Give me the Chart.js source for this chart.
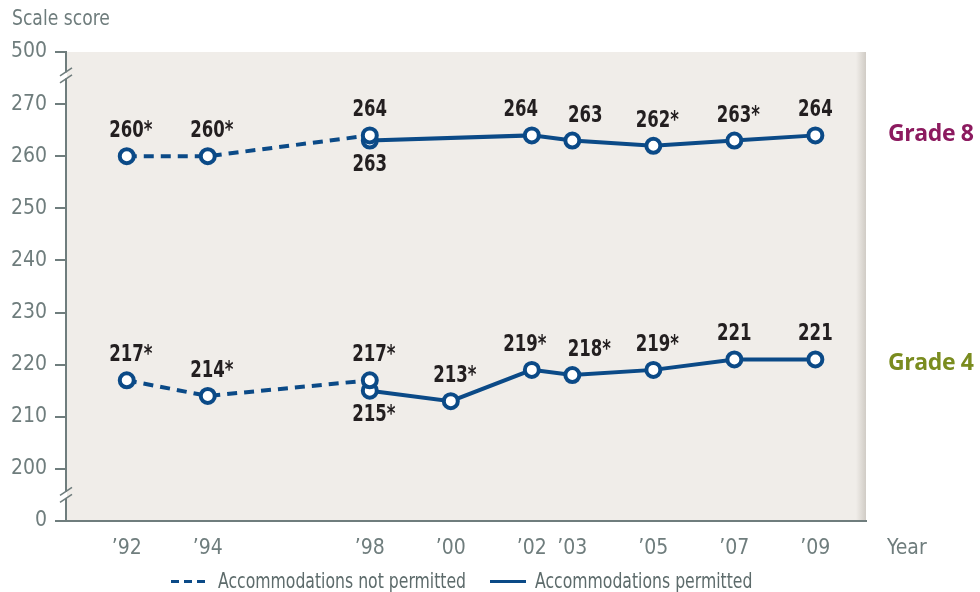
<!DOCTYPE html>
<html>
<head>
<meta charset="utf-8">
<script src="https://cdn.jsdelivr.net/npm/chart.js@4.4.0/dist/chart.umd.min.js"></script>
<style>
    html, body { margin: 0; padding: 0; background: #ffffff; }
    #wrap { position: relative; width: 980px; height: 592px; overflow: hidden; }
    #chart { position: absolute; left: 0; top: 0; }
    .note {
        position: absolute;
        font-family: "Liberation Sans Narrow", "DejaVu Sans Condensed", "Roboto", sans-serif;
        font-size: 21px;
        color: #6e7c7c;
        white-space: nowrap;
        line-height: 1;
        transform-origin: left top;
    }
    .grade {
        position: absolute;
        font-family: "Open Sans", "Noto Sans", sans-serif;
        font-weight: bold;
        font-size: 23px;
        letter-spacing: -0.4px;
        white-space: nowrap;
        line-height: 1;
    }
    .legend-swatch { position: absolute; height: 3px; background: #0b4a87; }
</style>
</head>
<body>
<div id="wrap">
    <canvas id="chart" width="980" height="592"></canvas>
    <div class="note" style="left:12px; top:8px; transform:scaleX(0.91);">Scale score</div>
    <div class="note" style="left:887px; top:537px;">Year</div>
    <div class="grade" style="left:888px; top:121px; color:#8c1a5f;">Grade 8</div>
    <div class="grade" style="left:888px; top:350px; color:#7a8c1f;">Grade 4</div>

    <div class="legend-swatch" style="left:171px; top:580px; width:8px;"></div>
    <div class="legend-swatch" style="left:184px; top:580px; width:8px;"></div>
    <div class="legend-swatch" style="left:197px; top:580px; width:8px;"></div>
    <div class="note" style="left:218px; top:571px; color:#5d6b6b; transform:scaleX(0.83);">Accommodations not permitted</div>
    <div class="legend-swatch" style="left:490px; top:580px; width:36px;"></div>
    <div class="note" style="left:535px; top:571px; color:#5d6b6b; transform:scaleX(0.83);">Accommodations permitted</div>
</div>

<script>
// Years on the x axis
const tickYears = [1992, 1994, 1998, 2000, 2002, 2003, 2005, 2007, 2009];
const yearsNotPermitted = [1992, 1994, 1998];
const yearsPermitted = [1998, 2000, 2002, 2003, 2005, 2007, 2009];

// Grade 8 scores
const grade8NotPermitted = [260, 260, 264];
const grade8NotPermittedLabels = ['260*', '260*', '264'];
const grade8Permitted = [263, null, 264, 263, 262, 263, 264];
const grade8PermittedLabels = ['263', '', '264', '263', '262*', '263*', '264'];

// Grade 4 scores
const grade4NotPermitted = [217, 214, 217];
const grade4NotPermittedLabels = ['217*', '214*', '217*'];
const grade4Permitted = [215, 213, 219, 218, 219, 221, 221];
const grade4PermittedLabels = ['215*', '213*', '219*', '218*', '219*', '221', '221'];

// Broken y axis: bottom tick stands for 0, top tick for 500
const yTickValues = [190, 200, 210, 220, 230, 240, 250, 260, 270, 280];
const yTickLabels = ['0', '200', '210', '220', '230', '240', '250', '260', '270', '500'];

const lineBlue = '#0b4a87';
const axisGray = '#6f7d7d';
const condensed = '"Liberation Sans Narrow", "DejaVu Sans Condensed", "Roboto", sans-serif';

// labels of '02 and '03 are pushed apart so they don't collide
const labelNudge = { 2002: -11, 2003: 13 };

function toPoints(years, values) {
    return years.map((yr, i) => ({ x: yr, y: values[i] }));
}

function seriesStyle(dashed) {
    return {
        borderColor: lineBlue,
        borderWidth: 4,
        borderDash: dashed ? [10, 7] : [],
        pointRadius: 7,
        pointBorderWidth: 4,
        pointBackgroundColor: '#ffffff',
        pointBorderColor: lineBlue,
        fill: false,
        tension: 0,
        spanGaps: true
    };
}

// Background panel with a slight shadow on the right edge
const panelPlugin = {
    id: 'panel',
    beforeDraw(chart) {
        const { ctx, chartArea: a } = chart;
        ctx.save();
        ctx.fillStyle = '#f0ede9';
        ctx.fillRect(a.left, a.top, a.right - a.left, a.bottom - a.top);
        const g = ctx.createLinearGradient(a.right - 10, 0, a.right, 0);
        g.addColorStop(0, 'rgba(200,195,188,0)');
        g.addColorStop(1, 'rgba(200,195,188,0.8)');
        ctx.fillStyle = g;
        ctx.fillRect(a.right - 10, a.top, 10, a.bottom - a.top);
        ctx.restore();
    }
};

// Double slashes marking the breaks on the y axis
const breakPlugin = {
    id: 'axisBreaks',
    afterDraw(chart) {
        const { ctx, chartArea: a, scales } = chart;
        const x = a.left;
        [275.5, 195].forEach(v => {
            const y = scales.y.getPixelForValue(v);
            ctx.save();
            ctx.fillStyle = '#ffffff';
            ctx.fillRect(x - 2, y - 3, 3, 6);
            ctx.strokeStyle = axisGray;
            ctx.lineWidth = 1.6;
            [-3.5, 3.5].forEach(d => {
                ctx.beginPath();
                ctx.moveTo(x - 6, y + d + 4);
                ctx.lineTo(x + 6, y + d - 4);
                ctx.stroke();
            });
            ctx.restore();
        });
    }
};

// Value labels above / below each point (squeezed to look condensed)
const valueLabelPlugin = {
    id: 'valueLabels',
    afterDatasetsDraw(chart) {
        const { ctx } = chart;
        const squeeze = 0.8;
        chart.data.datasets.forEach((ds, di) => {
            const meta = chart.getDatasetMeta(di);
            meta.data.forEach((pt, i) => {
                const txt = ds.valueLabels[i];
                if (!txt || pt.skip) return;
                const below = ds.labelsBelow && ds.labelsBelow[i];
                const yr = ds.data[i].x;
                let dx = txt.endsWith('*') ? 4 : 0;
                dx += labelNudge[yr] || 0;
                ctx.save();
                ctx.translate(pt.x + dx, pt.y + (below ? 24 : -25));
                ctx.scale(squeeze, 1);
                ctx.font = 'bold 23px ' + condensed;
                ctx.fillStyle = '#231f20';
                ctx.textAlign = 'center';
                ctx.textBaseline = 'middle';
                ctx.fillText(txt, 0, 0);
                ctx.restore();
            });
        });
    }
};

new Chart(document.getElementById('chart'), {
    type: 'line',
    data: {
        datasets: [
            {
                ...seriesStyle(true),
                data: toPoints(yearsNotPermitted, grade8NotPermitted),
                valueLabels: grade8NotPermittedLabels
            },
            {
                ...seriesStyle(true),
                data: toPoints(yearsNotPermitted, grade4NotPermitted),
                valueLabels: grade4NotPermittedLabels
            },
            {
                ...seriesStyle(false),
                data: toPoints(yearsPermitted, grade8Permitted),
                valueLabels: grade8PermittedLabels,
                labelsBelow: [true]
            },
            {
                ...seriesStyle(false),
                data: toPoints(yearsPermitted, grade4Permitted),
                valueLabels: grade4PermittedLabels,
                labelsBelow: [true]
            }
        ]
    },
    options: {
        responsive: false,
        animation: false,
        layout: { padding: { top: 52, right: 114, left: 0, bottom: 0 } },
        plugins: {
            legend: { display: false },
            tooltip: { enabled: false }
        },
        scales: {
            x: {
                type: 'linear',
                min: 1990.5,
                max: 2010.25,
                afterFit: scale => { scale.height = 71; },
                afterBuildTicks: scale => { scale.ticks = tickYears.map(v => ({ value: v })); },
                grid: { drawOnChartArea: false, drawTicks: false },
                border: { display: true, color: axisGray, width: 2 },
                ticks: {
                    padding: 15,
                    color: axisGray,
                    font: { family: condensed, size: 21 },
                    maxRotation: 0,
                    autoSkip: false,
                    callback: v => '\u2019' + String(v).slice(2)
                }
            },
            y: {
                min: 190,
                max: 280,
                afterFit: scale => { scale.width = 66; },
                afterBuildTicks: scale => { scale.ticks = yTickValues.map(v => ({ value: v })); },
                grid: {
                    drawOnChartArea: false,
                    drawTicks: true,
                    tickLength: 11,
                    color: axisGray,
                    lineWidth: 2
                },
                border: { display: true, color: axisGray, width: 2 },
                ticks: {
                    padding: 8,
                    color: axisGray,
                    font: { family: condensed, size: 21 },
                    callback: v => yTickLabels[yTickValues.indexOf(v)]
                }
            }
        }
    },
    plugins: [panelPlugin, breakPlugin, valueLabelPlugin]
});
</script>
</body>
</html>
